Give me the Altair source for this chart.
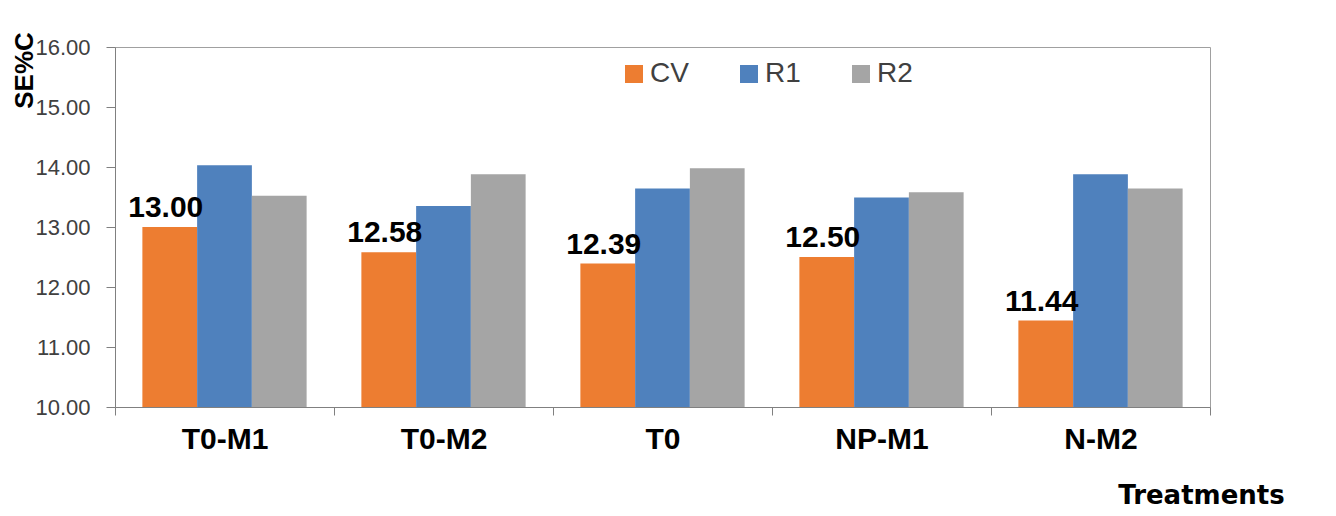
import altair as alt
import pandas as pd

treatments = ["T0-M1", "T0-M2", "T0", "NP-M1", "N-M2"]
series = ["CV", "R1", "R2"]
cv = [13.00, 12.58, 12.39, 12.50, 11.44]
r1 = [14.03, 13.35, 13.64, 13.49, 13.88]
r2 = [13.52, 13.88, 13.98, 13.58, 13.64]
colors = ["#ED7D31", "#4F81BD", "#A5A5A5"]

rows = []
for i, t in enumerate(treatments):
    for s, vals in zip(series, [cv, r1, r2]):
        rows.append({"Treatment": t, "Series": s, "Value": vals[i]})
df = pd.DataFrame(rows)

x_enc = alt.X("Treatment:N", sort=treatments,
              scale=alt.Scale(paddingInner=0, paddingOuter=0),
              axis=alt.Axis(title="Treatments", labelAngle=0,
                            labelFont="Liberation Sans", labelFontSize=30,
                            labelFontWeight="bold", labelColor="#000000",
                            labelPadding=9, tickBand="extent", tickSize=8,
                            tickColor="#808080", domainColor="#808080",
                            titleFont="DejaVu Sans", titleFontSize=26,
                            titleFontWeight="bold", titleColor="#000000",
                            titleX=1086, titleY=88, titleAlign="center",
                            titleBaseline="middle", titleAngle=0))
xoff = alt.XOffset("Series:N", sort=series,
                   scale=alt.Scale(domain=series, paddingInner=0, paddingOuter=0.5))

y_enc = alt.Y("Value:Q",
              scale=alt.Scale(domain=[10, 16], zero=False, nice=False),
              axis=alt.Axis(title="SE%C", values=[10, 11, 12, 13, 14, 15, 16],
                            format=".2f", grid=False,
                            labelFont="Liberation Sans", labelFontSize=22,
                            labelColor="#404040", labelPadding=16, tickSize=9,
                            tickColor="#808080", domainColor="#808080",
                            titleFont="Liberation Sans", titleFontSize=26,
                            titleFontWeight="bold", titleColor="#000000",
                            titleAngle=-90, titleX=-91, titleY=23,
                            titleAlign="center", titleBaseline="middle"))

bars = alt.Chart(df).mark_bar(clip=True).encode(
    x=x_enc,
    xOffset=xoff,
    y=y_enc,
    color=alt.Color("Series:N", sort=series,
                    scale=alt.Scale(domain=series, range=colors),
                    legend=alt.Legend(title=None, orient="none", legendX=505, legendY=13,
                                      direction="horizontal", symbolType="square",
                                      symbolSize=324, symbolStrokeWidth=0,
                                      labelFont="Liberation Sans", labelFontSize=28,
                                      labelColor="#404040", labelOffset=2,
                                      columnPadding=46)),
)

labels = alt.Chart(df).transform_filter(alt.datum.Series == "CV").mark_text(
    baseline="bottom", align="center", dy=-4, dx=-4,
    font="Liberation Sans", fontSize=30, fontWeight="bold", color="#000000"
).encode(
    x=alt.X("Treatment:N", sort=treatments),
    xOffset=xoff,
    y=alt.Y("Value:Q"),
    text=alt.Text("Value:Q", format=".2f"),
)

chart = alt.layer(bars, labels).properties(
    width=1095, height=360,
    autosize=alt.AutoSizeParams(type="none"),
    padding={"left": 107, "top": 39, "right": 100, "bottom": 108},
    background="#FFFFFF",
).configure_view(stroke="#A0A0A0", strokeWidth=1)

chart.save("out.html", embed_options={"renderer": "svg", "actions": False})
